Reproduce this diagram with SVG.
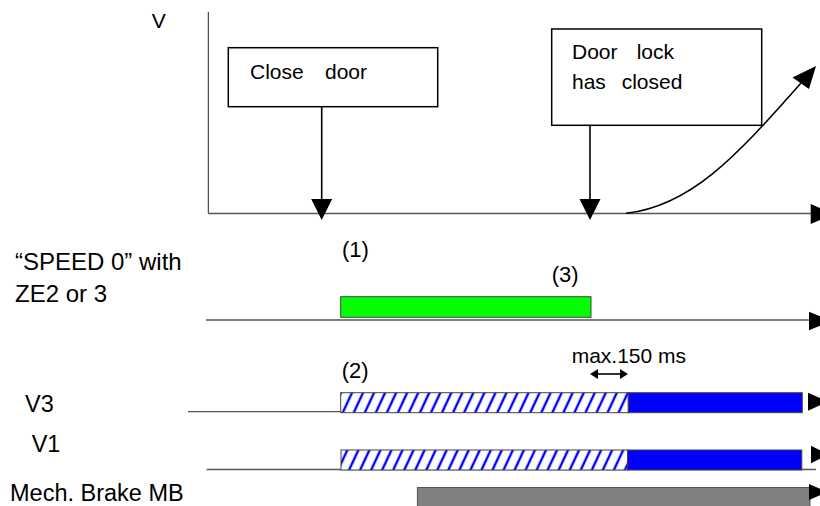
<svg xmlns="http://www.w3.org/2000/svg" width="820" height="506" viewBox="0 0 820 506">
<style>
text{font-family:"Liberation Sans",Arial,sans-serif;fill:#000}
.t21{font-size:21px}
.t22{font-size:22px}
.t23{font-size:23.5px}
.t24{font-size:24px}
.box{fill:#fff;stroke:#000;stroke-width:1.5}
.axis{stroke:#555;stroke-width:1.3;fill:none}
.vax{stroke:#222;stroke-width:1;fill:none}
.conn{stroke:#000;stroke-width:1.6;fill:none}
.head{fill:#000}
.bar{stroke:#444;stroke-width:1}
</style>
<defs>
<pattern id="hatch" patternUnits="userSpaceOnUse" width="10" height="10" patternTransform="rotate(25)">
<rect width="10" height="10" fill="#fff"/>
<line x1="5" y1="-1" x2="5" y2="11" stroke="#0000ff" stroke-width="2.4"/>
</pattern>
</defs>
<text class="t21" x="151.7" y="28">V</text>
<g id="axes">
<line class="vax" x1="208.3" y1="12" x2="208.3" y2="213.5"/>
<line class="axis" x1="208.3" y1="213.5" x2="812" y2="213.5"/>
<polygon class="head" points="810.7,204 810.7,224 834,214"/>
</g>
<g id="close-door">
<rect class="box" x="228.3" y="47.7" width="209.4" height="59"/>
<text class="t21" x="250" y="79">Close</text>
<text class="t21" x="325" y="79">door</text>
</g>
<g id="door-lock">
<rect class="box" x="551.7" y="29" width="210" height="96.3"/>
<text class="t21" x="572" y="59">Door</text>
<text class="t21" x="636.7" y="59">lock</text>
<text class="t21" x="572" y="89">has</text>
<text class="t21" x="621.7" y="89">closed</text>
</g>
<g id="connectors">
<line class="conn" x1="321.7" y1="106.7" x2="321.7" y2="202"/>
<polygon class="head" points="311.2,199 332.2,199 321.7,220"/>
<line class="conn" x1="590" y1="125.3" x2="590" y2="202"/>
<polygon class="head" points="579.5,199 600.5,199 590,220"/>
<path class="conn" d="M626,213.3 C690,206 735,158 801,83"/>
<polygon class="head" points="792.5,77.5 809,89 816,66"/>
</g>
<g id="speed0">
<text class="t24" x="15" y="270">“SPEED 0” with</text>
<text class="t24" x="15" y="301.7">ZE2 or 3</text>
<text class="t22" x="342" y="256.7">(1)</text>
<text class="t22" x="551.7" y="281.7">(3)</text>
<line class="axis" x1="206" y1="320" x2="812" y2="320"/>
<rect class="bar" x="340.7" y="296.7" width="250.3" height="20.6" fill="#00ff00"/>
<polygon class="head" points="809,311.7 809,330.3 832,321"/>
</g>
<g id="v3">
<text class="t22" x="341.7" y="378">(2)</text>
<text class="t21" x="571.7" y="363">max.150 ms</text>
<line stroke="#000" stroke-width="1.6" x1="597" y1="374" x2="621" y2="374"/>
<polygon class="head" points="590,374 598,369 598,379"/>
<polygon class="head" points="628,374 620,369 620,379"/>
<text class="t23" x="25" y="411.7">V3</text>
<line class="axis" x1="188" y1="411.7" x2="341" y2="411.7"/>
<rect class="bar" x="340.7" y="392.7" width="287.6" height="20" fill="url(#hatch)"/>
<rect class="bar" x="628.3" y="392.7" width="174" height="20" fill="#0000ff"/>
<polygon class="head" points="808,392.7 808,410.7 828,401.7"/>
</g>
<g id="v1">
<text class="t23" x="31.7" y="451.7">V1</text>
<line class="axis" x1="206.7" y1="469.5" x2="816" y2="469.5"/>
<rect class="bar" x="341" y="450" width="286.6" height="20" fill="url(#hatch)"/>
<rect class="bar" x="627.6" y="450" width="174.2" height="20" fill="#0000ff"/>
<polygon class="head" points="811,445.7 811,463.3 828,454.5"/>
</g>
<g id="mech-brake">
<text class="t23" x="10" y="501">Mech. Brake MB</text>
<rect x="417.4" y="487.5" width="392.6" height="22" fill="#808080" stroke="#555" stroke-width="1"/>
<polygon class="head" points="809,484 809,500 828,492"/>
</g>
</svg>
